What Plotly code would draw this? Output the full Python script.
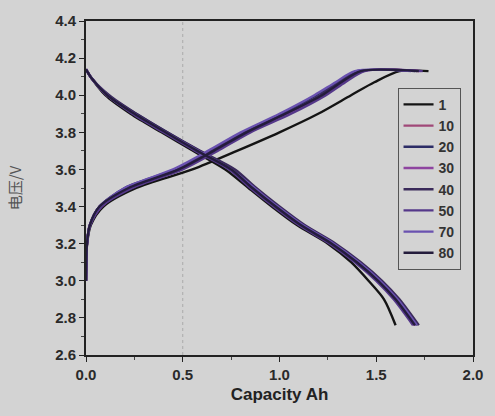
import plotly.graph_objects as go

cycles = ["1", "10", "20", "30", "40", "50", "70", "80"]
colors = ["#141414", "#a04878", "#2c2c66", "#8e44a0", "#3a2a5a", "#55388a", "#6a52b0", "#241c3c"]

# Charge branch: voltage levels (V) and capacity (Ah) at each level, per cycle (last point = end of CV step)
charge_v = [3.0, 3.2, 3.3, 3.4, 3.5, 3.6, 3.7, 3.8, 3.9, 4.0, 4.07, 4.13, 4.13]
charge_cap = {
    "1":  [0.0, 0.006, 0.025, 0.09, 0.26, 0.55, 0.78, 1.00, 1.20, 1.37, 1.49, 1.62, 1.77],
    "10": [0.0, 0.005, 0.020, 0.07, 0.22, 0.48, 0.66, 0.83, 1.04, 1.22, 1.32, 1.42, 1.72],
    "20": [0.0, 0.005, 0.020, 0.07, 0.20, 0.46, 0.64, 0.81, 1.01, 1.19, 1.30, 1.40, 1.70],
    "30": [0.0, 0.005, 0.020, 0.08, 0.23, 0.49, 0.67, 0.84, 1.05, 1.23, 1.33, 1.43, 1.73],
    "40": [0.0, 0.005, 0.020, 0.07, 0.21, 0.47, 0.65, 0.82, 1.03, 1.21, 1.31, 1.41, 1.71],
    "50": [0.0, 0.005, 0.022, 0.08, 0.24, 0.50, 0.68, 0.85, 1.06, 1.24, 1.34, 1.44, 1.74],
    "70": [0.0, 0.005, 0.020, 0.07, 0.20, 0.45, 0.63, 0.80, 1.00, 1.18, 1.29, 1.39, 1.68],
    "80": [0.0, 0.005, 0.020, 0.07, 0.22, 0.48, 0.66, 0.83, 1.03, 1.22, 1.32, 1.42, 1.72],
}

# Discharge branch: voltage levels (V) and capacity (Ah), per cycle
discharge_v = [4.14, 4.09, 4.0, 3.9, 3.8, 3.7, 3.6, 3.5, 3.4, 3.3, 3.2, 3.1, 3.0, 2.9, 2.76]
discharge_cap = {
    "1":  [0.0, 0.03, 0.10, 0.23, 0.39, 0.555, 0.72, 0.84, 0.96, 1.09, 1.25, 1.37, 1.46, 1.54, 1.60],
    "10": [0.0, 0.03, 0.11, 0.25, 0.41, 0.575, 0.75, 0.86, 0.98, 1.11, 1.27, 1.40, 1.51, 1.60, 1.70],
    "20": [0.0, 0.03, 0.11, 0.26, 0.42, 0.585, 0.76, 0.87, 0.99, 1.12, 1.28, 1.41, 1.52, 1.61, 1.71],
    "30": [0.0, 0.03, 0.11, 0.25, 0.41, 0.575, 0.75, 0.86, 0.98, 1.11, 1.27, 1.40, 1.51, 1.60, 1.70],
    "40": [0.0, 0.03, 0.12, 0.26, 0.42, 0.590, 0.77, 0.88, 1.00, 1.13, 1.29, 1.42, 1.53, 1.62, 1.72],
    "50": [0.0, 0.03, 0.11, 0.24, 0.40, 0.565, 0.74, 0.85, 0.97, 1.10, 1.26, 1.39, 1.50, 1.59, 1.69],
    "70": [0.0, 0.03, 0.11, 0.25, 0.41, 0.580, 0.75, 0.87, 0.99, 1.12, 1.28, 1.41, 1.52, 1.61, 1.71],
    "80": [0.0, 0.03, 0.11, 0.25, 0.41, 0.575, 0.75, 0.86, 0.98, 1.11, 1.27, 1.40, 1.51, 1.60, 1.70],
}

fig = go.Figure()
for c, col in zip(cycles, colors):
    fig.add_trace(go.Scatter(x=charge_cap[c], y=charge_v, mode="lines", name=c,
                             legendgroup=c, line=dict(color=col, width=2.4, shape="spline", smoothing=0.8)))
    fig.add_trace(go.Scatter(x=discharge_cap[c], y=discharge_v, mode="lines", name=c,
                             legendgroup=c, showlegend=False,
                             line=dict(color=col, width=2.4, shape="spline", smoothing=0.8)))

fig.add_vline(x=0.5, line=dict(color="#aaaaaa", width=1, dash="dot"), layer="below")

font_tick = dict(family="Liberation Sans, Arial", size=15, color="#2a2a2a", weight="bold")
fig.update_layout(
    width=495, height=416,
    margin=dict(l=86, r=12, t=17, b=61),
    paper_bgcolor="#d3d3d3", plot_bgcolor="#d3d3d3",
    showlegend=True,
    legend=dict(x=0.805, y=0.80, xanchor="left", yanchor="top",
                bgcolor="rgba(0,0,0,0)", bordercolor="#555555", borderwidth=1,
                font=dict(family="Liberation Sans, Arial", size=14, color="#333333", weight="bold"),
                itemwidth=30, tracegroupgap=0),
    xaxis=dict(range=[0, 2.0], dtick=0.5, tickformat=".1f", showgrid=False, zeroline=False,
               showline=True, linecolor="#222222", linewidth=2, mirror=True,
               ticks="outside", ticklen=5, tickcolor="#222222", tickfont=font_tick,
               minor=dict(dtick=0.25, ticks="outside", ticklen=3, tickcolor="#444444"),
               title=dict(text="Capacity Ah", font=dict(family="Liberation Sans, Arial", size=17, color="#222222", weight="bold"), standoff=6)),
    yaxis=dict(range=[2.6, 4.4], dtick=0.2, tickformat=".1f", showgrid=False, zeroline=False,
               showline=True, linecolor="#222222", linewidth=2, mirror=True,
               ticks="outside", ticklen=5, tickcolor="#222222", tickfont=font_tick,
               minor=dict(dtick=0.1, ticks="outside", ticklen=3, tickcolor="#444444"),
               title=dict(text="电压/V", font=dict(family="Noto Sans CJK SC", size=15, color="#555555"), standoff=30)),
)

fig.write_html("out.html")
